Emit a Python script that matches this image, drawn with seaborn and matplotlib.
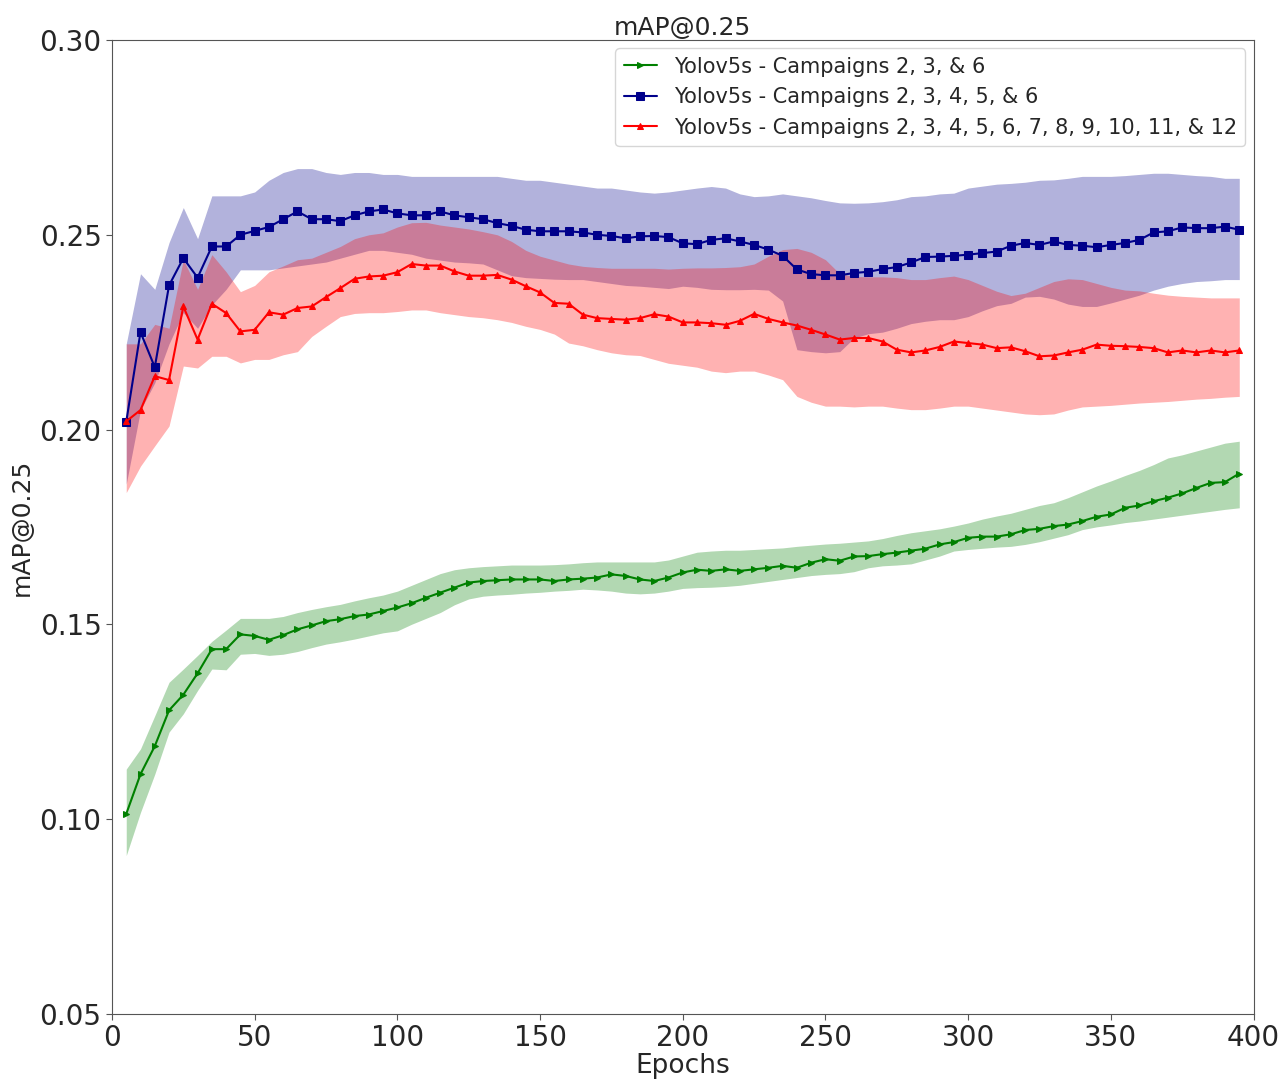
import numpy as np
import pandas as pd
import matplotlib
matplotlib.use("Agg")
import matplotlib.pyplot as plt
import seaborn as sns

# Epochs (every 5 epochs)
epochs = list(range(5, 400, 5))

# Yolov5s - Campaigns 2, 3, & 6
green_mean = [0.1013, 0.1115, 0.1187, 0.1279, 0.1319, 0.1374, 0.1436, 0.1436, 0.1474, 0.1470,
              0.1460, 0.1472, 0.1487, 0.1497, 0.1508, 0.1513, 0.1521, 0.1525, 0.1534, 0.1543,
              0.1554, 0.1568, 0.1581, 0.1594, 0.1607, 0.1611, 0.1613, 0.1615, 0.1615, 0.1615,
              0.1611, 0.1615, 0.1617, 0.1620, 0.1628, 0.1624, 0.1615, 0.1611, 0.1620, 0.1633,
              0.1640, 0.1637, 0.1641, 0.1637, 0.1641, 0.1645, 0.1650, 0.1645, 0.1658, 0.1667,
              0.1663, 0.1674, 0.1675, 0.1680, 0.1684, 0.1689, 0.1694, 0.1705, 0.1711, 0.1722,
              0.1725, 0.1725, 0.1731, 0.1742, 0.1745, 0.1752, 0.1756, 0.1765, 0.1776, 0.1782,
              0.1799, 0.1805, 0.1816, 0.1825, 0.1836, 0.1850, 0.1863, 0.1865, 0.1887]
green_upper = [0.1128, 0.1180, 0.1265, 0.1351, 0.1385, 0.1420, 0.1456, 0.1485, 0.1515, 0.1515,
               0.1515, 0.1520, 0.1530, 0.1538, 0.1545, 0.1551, 0.1560, 0.1568, 0.1575, 0.1585,
               0.1600, 0.1615, 0.1630, 0.1640, 0.1645, 0.1648, 0.1650, 0.1652, 0.1652, 0.1652,
               0.1653, 0.1655, 0.1658, 0.1660, 0.1660, 0.1660, 0.1660, 0.1660, 0.1665, 0.1675,
               0.1685, 0.1688, 0.1690, 0.1690, 0.1692, 0.1694, 0.1696, 0.1700, 0.1703, 0.1706,
               0.1708, 0.1711, 0.1714, 0.1720, 0.1728, 0.1735, 0.1740, 0.1745, 0.1752, 0.1760,
               0.1770, 0.1778, 0.1785, 0.1795, 0.1805, 0.1812, 0.1825, 0.1840, 0.1855, 0.1868,
               0.1882, 0.1895, 0.1910, 0.1927, 0.1935, 0.1945, 0.1955, 0.1965, 0.1970]
green_lower = [0.0906, 0.1017, 0.1115, 0.1223, 0.1270, 0.1330, 0.1385, 0.1383, 0.1423, 0.1425,
               0.1420, 0.1423, 0.1430, 0.1440, 0.1449, 0.1455, 0.1462, 0.1470, 0.1478, 0.1483,
               0.1500, 0.1515, 0.1530, 0.1550, 0.1565, 0.1572, 0.1575, 0.1577, 0.1580, 0.1582,
               0.1585, 0.1587, 0.1590, 0.1588, 0.1585, 0.1580, 0.1578, 0.1580, 0.1585, 0.1592,
               0.1594, 0.1595, 0.1597, 0.1600, 0.1605, 0.1610, 0.1615, 0.1620, 0.1625, 0.1628,
               0.1630, 0.1635, 0.1645, 0.1650, 0.1652, 0.1655, 0.1665, 0.1675, 0.1688, 0.1692,
               0.1695, 0.1698, 0.1700, 0.1705, 0.1712, 0.1721, 0.1730, 0.1743, 0.1750, 0.1755,
               0.1761, 0.1765, 0.1770, 0.1775, 0.1780, 0.1785, 0.1790, 0.1795, 0.1799]

# Yolov5s - Campaigns 2, 3, 4, 5, & 6
blue_mean = [0.2020, 0.2250, 0.2160, 0.2370, 0.2440, 0.2390, 0.2470, 0.2470, 0.2500, 0.2510,
             0.2520, 0.2540, 0.2560, 0.2540, 0.2540, 0.2535, 0.2550, 0.2560, 0.2565, 0.2555,
             0.2550, 0.2550, 0.2560, 0.2550, 0.2545, 0.2540, 0.2530, 0.2523, 0.2513, 0.2509,
             0.2509, 0.2509, 0.2506, 0.2500, 0.2497, 0.2491, 0.2496, 0.2497, 0.2494, 0.2478,
             0.2476, 0.2487, 0.2491, 0.2483, 0.2474, 0.2462, 0.2446, 0.2411, 0.2399, 0.2396,
             0.2396, 0.2402, 0.2405, 0.2412, 0.2417, 0.2429, 0.2443, 0.2444, 0.2446, 0.2449,
             0.2453, 0.2457, 0.2472, 0.2479, 0.2474, 0.2483, 0.2474, 0.2472, 0.2468, 0.2474,
             0.2479, 0.2487, 0.2506, 0.2509, 0.2519, 0.2517, 0.2517, 0.2521, 0.2513]
blue_upper = [0.2220, 0.2400, 0.2360, 0.2480, 0.2570, 0.2490, 0.2600, 0.2600, 0.2600, 0.2610,
              0.2640, 0.2660, 0.2670, 0.2670, 0.2660, 0.2655, 0.2660, 0.2660, 0.2655, 0.2655,
              0.2650, 0.2650, 0.2650, 0.2650, 0.2650, 0.2650, 0.2650, 0.2645, 0.2640, 0.2640,
              0.2635, 0.2630, 0.2625, 0.2620, 0.2620, 0.2615, 0.2610, 0.2607, 0.2610, 0.2615,
              0.2620, 0.2624, 0.2620, 0.2605, 0.2598, 0.2600, 0.2605, 0.2600, 0.2595, 0.2588,
              0.2582, 0.2581, 0.2582, 0.2585, 0.2590, 0.2598, 0.2600, 0.2605, 0.2607, 0.2620,
              0.2625, 0.2630, 0.2632, 0.2635, 0.2640, 0.2641, 0.2645, 0.2650, 0.2650, 0.2650,
              0.2652, 0.2655, 0.2658, 0.2658, 0.2655, 0.2652, 0.2650, 0.2645, 0.2645]
blue_lower = [0.1860, 0.2050, 0.2120, 0.2220, 0.2300, 0.2260, 0.2320, 0.2360, 0.2410, 0.2410,
              0.2410, 0.2415, 0.2420, 0.2425, 0.2430, 0.2440, 0.2450, 0.2460, 0.2460, 0.2455,
              0.2450, 0.2440, 0.2435, 0.2430, 0.2428, 0.2425, 0.2410, 0.2395, 0.2390, 0.2388,
              0.2386, 0.2385, 0.2385, 0.2380, 0.2375, 0.2370, 0.2368, 0.2365, 0.2362, 0.2368,
              0.2365, 0.2360, 0.2359, 0.2359, 0.2360, 0.2358, 0.2330, 0.2205, 0.2200, 0.2197,
              0.2200, 0.2235, 0.2246, 0.2250, 0.2260, 0.2272, 0.2278, 0.2282, 0.2282, 0.2290,
              0.2305, 0.2318, 0.2324, 0.2340, 0.2342, 0.2335, 0.2322, 0.2316, 0.2316, 0.2325,
              0.2335, 0.2345, 0.2358, 0.2368, 0.2375, 0.2380, 0.2382, 0.2385, 0.2385]

# Yolov5s - Campaigns 2, 3, 4, 5, 6, 7, 8, 9, 10, 11, & 12
red_mean = [0.2021, 0.2050, 0.2137, 0.2127, 0.2316, 0.2231, 0.2323, 0.2299, 0.2252, 0.2256,
            0.2301, 0.2295, 0.2312, 0.2316, 0.2340, 0.2363, 0.2387, 0.2393, 0.2395, 0.2404,
            0.2425, 0.2421, 0.2421, 0.2406, 0.2395, 0.2395, 0.2397, 0.2385, 0.2368, 0.2352,
            0.2325, 0.2323, 0.2295, 0.2286, 0.2284, 0.2282, 0.2286, 0.2296, 0.2290, 0.2275,
            0.2275, 0.2273, 0.2269, 0.2279, 0.2297, 0.2284, 0.2275, 0.2267, 0.2256, 0.2244,
            0.2231, 0.2235, 0.2235, 0.2226, 0.2205, 0.2198, 0.2203, 0.2212, 0.2226, 0.2222,
            0.2218, 0.2209, 0.2211, 0.2201, 0.2188, 0.2190, 0.2198, 0.2205, 0.2218, 0.2215,
            0.2214, 0.2212, 0.2209, 0.2198, 0.2203, 0.2198, 0.2203, 0.2198, 0.2203]
red_upper = [0.2220, 0.2220, 0.2270, 0.2260, 0.2436, 0.2360, 0.2449, 0.2405, 0.2354, 0.2370,
             0.2405, 0.2420, 0.2436, 0.2440, 0.2455, 0.2470, 0.2490, 0.2500, 0.2505, 0.2520,
             0.2531, 0.2532, 0.2525, 0.2520, 0.2515, 0.2508, 0.2500, 0.2483, 0.2460, 0.2445,
             0.2435, 0.2425, 0.2419, 0.2416, 0.2414, 0.2414, 0.2414, 0.2414, 0.2412, 0.2414,
             0.2415, 0.2415, 0.2416, 0.2418, 0.2425, 0.2445, 0.2462, 0.2465, 0.2455, 0.2436,
             0.2400, 0.2393, 0.2392, 0.2392, 0.2390, 0.2385, 0.2385, 0.2390, 0.2394, 0.2385,
             0.2370, 0.2355, 0.2344, 0.2350, 0.2365, 0.2380, 0.2387, 0.2385, 0.2375, 0.2365,
             0.2358, 0.2356, 0.2350, 0.2345, 0.2342, 0.2340, 0.2338, 0.2338, 0.2338]
red_lower = [0.1838, 0.1906, 0.1958, 0.2009, 0.2163, 0.2158, 0.2188, 0.2188, 0.2171, 0.2180,
             0.2180, 0.2192, 0.2200, 0.2239, 0.2265, 0.2290, 0.2298, 0.2300, 0.2300, 0.2303,
             0.2307, 0.2307, 0.2300, 0.2295, 0.2290, 0.2287, 0.2282, 0.2275, 0.2265, 0.2257,
             0.2245, 0.2222, 0.2215, 0.2205, 0.2197, 0.2192, 0.2190, 0.2180, 0.2170, 0.2165,
             0.2160, 0.2150, 0.2146, 0.2150, 0.2150, 0.2140, 0.2128, 0.2085, 0.2070, 0.2060,
             0.2060, 0.2058, 0.2060, 0.2060, 0.2055, 0.2051, 0.2051, 0.2055, 0.2060, 0.2060,
             0.2055, 0.2050, 0.2045, 0.2040, 0.2038, 0.2040, 0.2050, 0.2058, 0.2060, 0.2062,
             0.2065, 0.2068, 0.2070, 0.2072, 0.2075, 0.2078, 0.2080, 0.2083, 0.2085]

labels = ["Yolov5s - Campaigns 2, 3, & 6",
          "Yolov5s - Campaigns 2, 3, 4, 5, & 6",
          "Yolov5s - Campaigns 2, 3, 4, 5, 6, 7, 8, 9, 10, 11, & 12"]

series = [
    (green_mean, green_lower, green_upper, "green", ">", 5),
    (blue_mean, blue_lower, blue_upper, "darkblue", "s", 6),
    (red_mean, red_lower, red_upper, "red", "^", 5),
]

sns.set_style("ticks")
plt.rcParams["font.family"] = ["DejaVu Sans"]

fig = plt.figure(figsize=(12.87, 10.83), dpi=100)
ax = fig.add_axes([0.087, 0.064, 0.887, 0.899])

for (mean, lower, upper, color, marker, ms), label in zip(series, labels):
    df = pd.DataFrame({"Epochs": epochs, "value": mean})
    sns.lineplot(data=df, x="Epochs", y="value", color=color, marker=marker,
                 markersize=ms, markeredgecolor=color, linewidth=1.5, label=label, ax=ax)
    ax.fill_between(epochs, lower, upper, color=color, alpha=0.3, linewidth=0)

ax.set_xlim(0, 400)
ax.set_ylim(0.05, 0.30)
ax.set_xticks([0, 50, 100, 150, 200, 250, 300, 350, 400])
ax.set_yticks([0.05, 0.10, 0.15, 0.20, 0.25, 0.30])
ax.set_yticklabels(["0.05", "0.10", "0.15", "0.20", "0.25", "0.30"])
ax.tick_params(labelsize=20, length=4, color="#555555")
for sp in ax.spines.values():
    sp.set_color("#555555")
ax.set_title("mAP@0.25", fontsize=18, pad=3)
ax.set_xlabel("Epochs", fontsize=19, labelpad=1)
ax.set_ylabel("mAP@0.25", fontsize=18, labelpad=4)
ax.legend(loc="upper right", fontsize=15, handlelength=1.6, borderaxespad=0.4)

plt.savefig("out.png", dpi=100)
plt.close()
